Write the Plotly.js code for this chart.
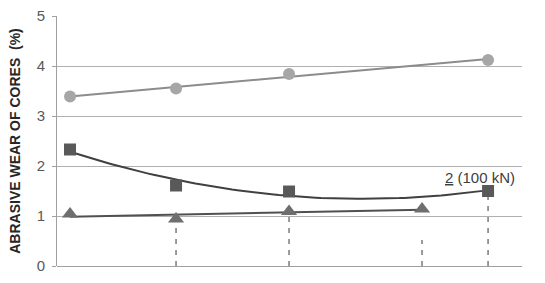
<!DOCTYPE html>
<html><head><meta charset="utf-8">
<script src="https://cdn.plot.ly/plotly-3.0.1.min.js"></script>
<style>html,body{margin:0;padding:0;background:#fff}#chart{width:545px;height:283px}</style>
</head><body><div id="chart"></div>
<script>
// x positions (arbitrary load scale, no tick labels shown)
const xCircle = [0.28, 2.56, 4.99, 9.27];
const yCircle = [3.39, 3.55, 3.84, 4.12];
const xSquare = [0.28, 2.56, 4.99, 9.27];
const ySquare = [2.33, 1.61, 1.49, 1.50];
const xTriangle = [0.28, 2.56, 4.99, 7.85];
const yTriangle = [1.04, 0.94, 1.09, 1.14];
const xDrop = [2.56, 4.99, 7.85, 9.27];
const yDropTop = [0.92, 1.02, 0.52, 1.42];
const annText = '<u>2</u> (100 kN)';

function linFit(xs, ys){
  const n=xs.length, mx=xs.reduce((a,b)=>a+b)/n, my=ys.reduce((a,b)=>a+b)/n;
  let sxy=0,sxx=0; for(let i=0;i<n;i++){sxy+=(xs[i]-mx)*(ys[i]-my);sxx+=(xs[i]-mx)**2;}
  const b=sxy/sxx, a=my-b*mx; return x=>a+b*x;
}
function quadFit(xs, ys){
  let S=[0,0,0,0,0], T=[0,0,0];
  for(let i=0;i<xs.length;i++){const x=xs[i],y=ys[i];
    for(let k=0;k<5;k++) S[k]+=x**k; for(let k=0;k<3;k++) T[k]+=y*x**k;}
  const M=[[S[0],S[1],S[2],T[0]],[S[1],S[2],S[3],T[1]],[S[2],S[3],S[4],T[2]]];
  for(let i=0;i<3;i++){for(let j=i+1;j<3;j++){const f=M[j][i]/M[i][i];for(let k=i;k<4;k++)M[j][k]-=f*M[i][k];}}
  const c=[0,0,0];
  for(let i=2;i>=0;i--){let s=M[i][3];for(let k=i+1;k<3;k++)s-=M[i][k]*c[k];c[i]=s/M[i][i];}
  return x=>c[0]+c[1]*x+c[2]*x*x;
}
function sample(f, x0, x1, n){const xs=[],ys=[];for(let i=0;i<=n;i++){const x=x0+(x1-x0)*i/n;xs.push(x);ys.push(f(x));}return {x:xs,y:ys};}

const fc = linFit(xCircle,yCircle), fs = quadFit(xSquare,ySquare), ft = linFit(xTriangle,yTriangle);
const tc = sample(fc, xCircle[0], xCircle[xCircle.length-1], 2);
const ts = sample(fs, xSquare[0], xSquare[xSquare.length-1], 80);
const tt = sample(ft, xTriangle[0], xTriangle[xTriangle.length-1], 2);

const traces = [];
for(let i=0;i<xDrop.length;i++){
  traces.push({x:[xDrop[i],xDrop[i]], y:[0,yDropTop[i]], mode:'lines', line:{color:'#7a7a7a',width:1.5,dash:'5px,6px'}, hoverinfo:'skip'});
}
traces.push({x:tc.x,y:tc.y,mode:'lines',line:{color:'#8c8c8c',width:2}});
traces.push({x:ts.x,y:ts.y,mode:'lines',line:{color:'#404040',width:2}});
traces.push({x:tt.x,y:tt.y,mode:'lines',line:{color:'#505050',width:2}});
traces.push({x:xCircle,y:yCircle,mode:'markers',marker:{symbol:'circle',size:12,color:'#a6a6a6'}});
traces.push({x:xSquare,y:ySquare,mode:'markers',marker:{symbol:'square',size:12,color:'#595959'}});
traces.push({x:xTriangle,y:yTriangle,mode:'markers',marker:{symbol:'triangle-up',size:14,color:'#6e6e6e'}});

const layout = {
  width:545, height:283, showlegend:false,
  margin:{l:57,r:23,t:16,b:17},
  paper_bgcolor:'#fff', plot_bgcolor:'#fff',
  font:{family:'Liberation Sans, Arial, sans-serif'},
  xaxis:{range:[0,10], showgrid:false, zeroline:false, showticklabels:false, ticks:'', showline:false},
  yaxis:{range:[0,5], dtick:1, tick0:0, showgrid:true, gridcolor:'#b0b0b0', gridwidth:1,
         zeroline:true, zerolinecolor:'#a0a0a0', zerolinewidth:1, showline:true, linecolor:'#a0a0a0', linewidth:1,
         ticks:'outside', ticklen:4, tickcolor:'#a0a0a0', tickfont:{size:15,color:'#595959'}, ticklabelstandoff:4,
         title:{text:'<b>ABRASIVE WEAR OF CORES  (%)</b>', font:{size:14,color:'#262626'}, standoff:12}},
  annotations:[{x:9.1,y:1.78,xref:'x',yref:'y',text:annText,showarrow:false,font:{size:15,color:'#404040'},xanchor:'center',yanchor:'middle'}]
};
Plotly.newPlot('chart', traces, layout, {staticPlot:true});
</script></body></html>
